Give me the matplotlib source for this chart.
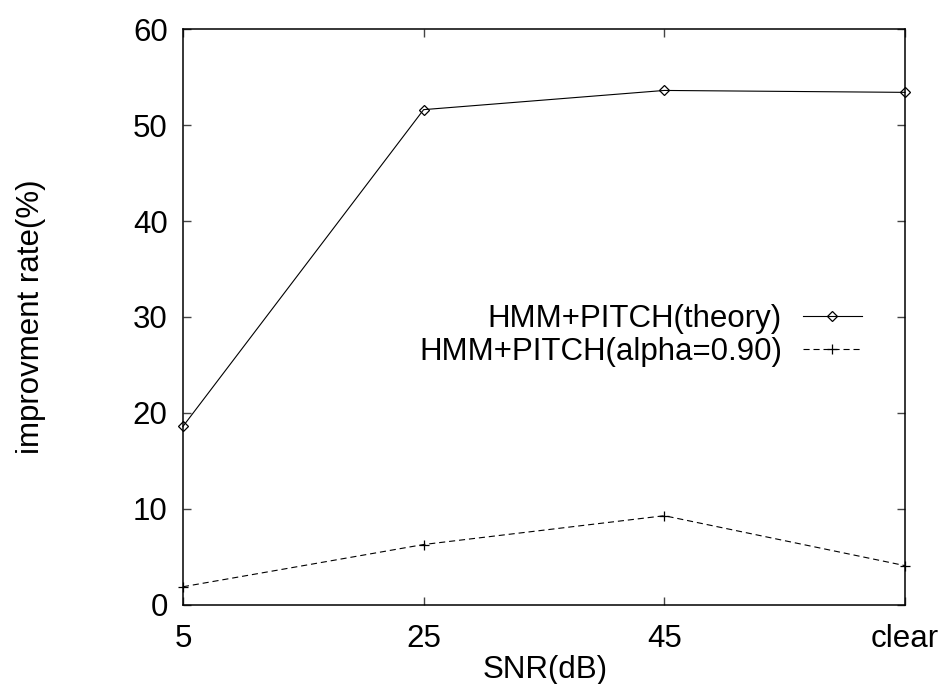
import matplotlib
matplotlib.use('Agg')
from matplotlib import pyplot as plt

snr_labels = ['5', '25', '45', 'clear']
theory = [18.6, 51.6, 53.6, 53.4]
alpha90 = [1.9, 6.3, 9.3, 4.1]

plt.rcParams['font.family'] = ['Liberation Sans', 'DejaVu Sans']
plt.rcParams['font.size'] = 22.5

fig = plt.figure(figsize=(9.43, 6.84), dpi=100)
ax = fig.add_axes([0.194, 0.1155, 0.7657, 0.8421])

x = list(range(len(snr_labels)))
ax.plot(x, theory, color='black', lw=0.8, marker='D', markersize=4.6,
        fillstyle='none', mew=0.9, label='HMM+PITCH(theory)', clip_on=False)
ax.plot(x, alpha90, color='black', lw=0.8, marker='+', markersize=7,
        mew=0.9, linestyle=(0, (5.5, 3.5)), label='HMM+PITCH(alpha=0.90)',
        clip_on=False)

ax.set_xlim(0, 3)
ax.set_ylim(0, 60)
ax.set_xticks(x)
ax.set_xticklabels(snr_labels)
ax.set_yticks(range(0, 61, 10))
ax.tick_params(direction='in', length=5.8, width=1, top=True, right=True,
               color='#444444')
ax.tick_params(axis='x', pad=14)
ax.tick_params(axis='y', pad=11)
for s in ax.spines.values():
    s.set_linewidth(1.1)

ax.set_xlabel('SNR(dB)')
ax.xaxis.set_label_coords(0.501, -0.086)
ax.set_ylabel('improvment rate(%)')
ax.yaxis.set_label_coords(-0.19, 0.5)

ax.legend(loc='center right', bbox_to_anchor=(0.940, 0.468), frameon=False,
          markerfirst=False, borderpad=0, borderaxespad=0, handlelength=1.88,
          handletextpad=0.67, labelspacing=0.1)

fig.savefig('out.png', dpi=100)
